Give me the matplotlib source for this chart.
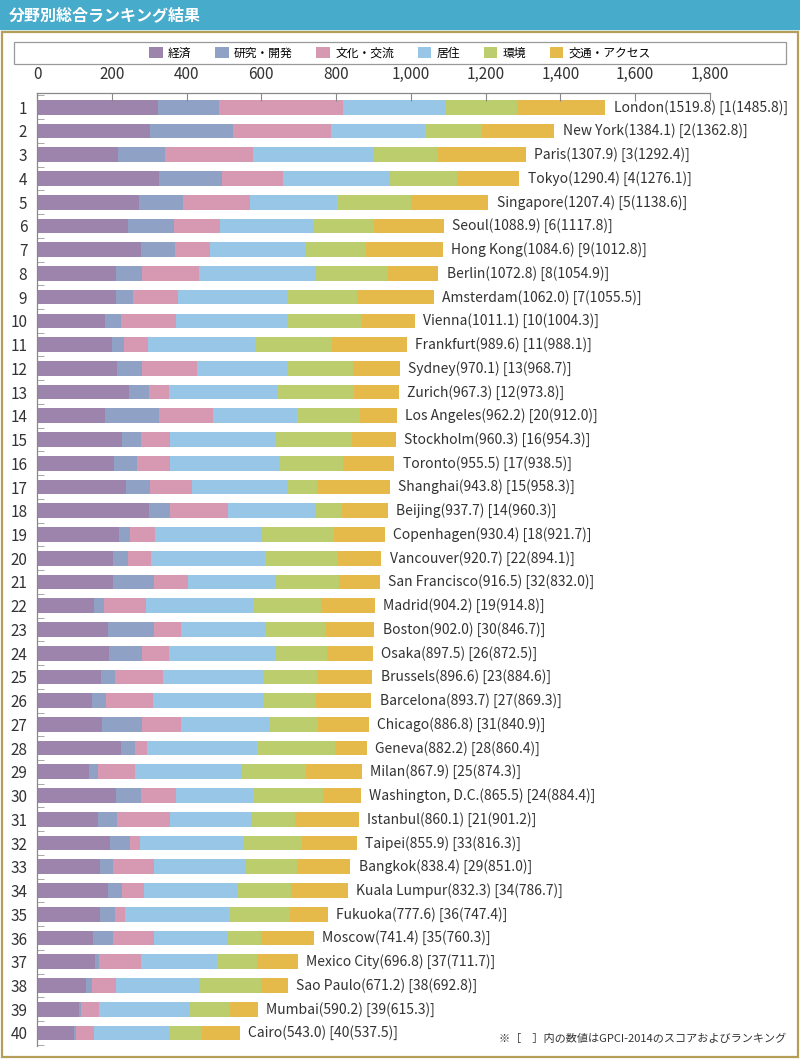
import matplotlib
matplotlib.use("Agg")
import matplotlib.pyplot as plt
from matplotlib.patches import Rectangle, Patch
from matplotlib.ticker import FuncFormatter
import numpy as np

plt.rcParams['font.family'] = ['Noto Sans CJK JP', 'DejaVu Sans']

# --- data ---
categories = ['経済', '研究・開発', '文化・交流', '居住', '環境', '交通・アクセス']
colors = ['#9c84ad', '#8fa1c5', '#d799b1', '#97c6e6', '#bccd6d', '#e6b94b']

cities = ['London', 'New York', 'Paris', 'Tokyo', 'Singapore', 'Seoul', 'Hong Kong',
          'Berlin', 'Amsterdam', 'Vienna', 'Frankfurt', 'Sydney', 'Zurich',
          'Los Angeles', 'Stockholm', 'Toronto', 'Shanghai', 'Beijing', 'Copenhagen',
          'Vancouver', 'San Francisco', 'Madrid', 'Boston', 'Osaka', 'Brussels',
          'Barcelona', 'Chicago', 'Geneva', 'Milan', 'Washington, D.C.', 'Istanbul',
          'Taipei', 'Bangkok', 'Kuala Lumpur', 'Fukuoka', 'Moscow', 'Mexico City',
          'Sao Paulo', 'Mumbai', 'Cairo']
scores = ['1519.8', '1384.1', '1307.9', '1290.4', '1207.4', '1088.9', '1084.6',
          '1072.8', '1062.0', '1011.1', '989.6', '970.1', '967.3', '962.2', '960.3',
          '955.5', '943.8', '937.7', '930.4', '920.7', '916.5', '904.2', '902.0',
          '897.5', '896.6', '893.7', '886.8', '882.2', '867.9', '865.5', '860.1',
          '855.9', '838.4', '832.3', '777.6', '741.4', '696.8', '671.2', '590.2', '543.0']
prev_ranks = [1, 2, 3, 4, 5, 6, 9, 8, 7, 10, 11, 13, 12, 20, 16, 17, 15, 14, 18, 22,
              32, 19, 30, 26, 23, 27, 31, 28, 25, 24, 21, 33, 29, 34, 36, 35, 37, 38, 39, 40]
prev_scores = ['1485.8', '1362.8', '1292.4', '1276.1', '1138.6', '1117.8', '1012.8',
               '1054.9', '1055.5', '1004.3', '988.1', '968.7', '973.8', '912.0', '954.3',
               '938.5', '958.3', '960.3', '921.7', '894.1', '832.0', '914.8', '846.7',
               '872.5', '884.6', '869.3', '840.9', '860.4', '874.3', '884.4', '901.2',
               '816.3', '851.0', '786.7', '747.4', '760.3', '711.7', '692.8', '615.3', '537.5']

economy = [323, 301, 217, 327, 274, 243, 278, 210, 210, 182, 201, 214, 247, 181, 228, 206,
           238, 300, 220, 204, 202, 153, 190, 192, 172, 148, 175, 225, 140, 212, 162, 195,
           169, 191, 169, 151, 155, 131, 112, 98]
research = [164, 222, 125, 168, 116, 123, 91, 72, 47, 44, 31, 68, 53, 145, 51, 62, 63, 55,
            29, 39, 110, 27, 123, 88, 37, 36, 105, 37, 24, 67, 53, 55, 34, 37, 40, 53, 11,
            17, 6, 5]
culture = [332, 264, 236, 164, 181, 124, 93, 152, 121, 147, 66, 147, 53, 144, 77, 89, 114,
           155, 67, 62, 93, 112, 71, 73, 128, 126, 105, 32, 97, 94, 140, 25, 109, 59, 27,
           110, 112, 64, 48, 50]
livability = [274, 251, 323, 284, 231, 251, 258, 311, 292, 297, 284, 240, 292, 226, 283,
              292, 255, 236, 286, 304, 232, 289, 228, 284, 268, 297, 238, 294, 286, 204,
              219, 278, 246, 250, 278, 195, 204, 220, 244, 203]
environment = [192, 152, 171, 179, 199, 160, 160, 193, 186, 200, 207, 177, 202, 168, 204,
               169, 79, 71, 193, 196, 171, 179, 162, 139, 143, 139, 128, 209, 172, 187, 116,
               157, 138, 143, 162, 90, 107, 166, 105, 85]
access = [235, 194, 236, 168, 206, 188, 205, 135, 206, 141, 201, 124, 120, 98, 117, 138,
          195, 121, 135, 116, 109, 144, 128, 122, 149, 148, 136, 85, 149, 102, 170, 146,
          142, 152, 102, 142, 108, 73, 75, 102]

series = [economy, research, culture, livability, environment, access]

# --- figure (pixel helpers) ---
W, H = 800, 1060
fig = plt.figure(figsize=(W / 100, H / 100), dpi=100)

def fx(px):
    return px / W

def fy(py):
    return 1 - py / H

# header band
fig.patches.append(Rectangle((0, fy(29)), 1, 29 / H, transform=fig.transFigure,
                             color='#47abcb', zorder=0))
fig.text(fx(9), fy(15), '分野別総合ランキング結果', color='white', fontsize=11.5,
         fontweight='bold', va='center')

# outer frame
fig.patches.append(Rectangle((fx(2), fy(1057)), fx(796), 1025 / H, transform=fig.transFigure,
                             fill=False, edgecolor='#b59f58', lw=1.6))

# legend box
fig.patches.append(Rectangle((fx(14), fy(64)), fx(772), 22 / H, transform=fig.transFigure,
                             fill=False, edgecolor='#999999', lw=0.9))
handles = [Patch(facecolor=c, edgecolor='none') for c in colors]
fig.legend(handles, categories, loc='center', bbox_to_anchor=(0.5, fy(53)), ncol=6,
           frameon=False, fontsize=8.5, handlelength=1.15, handleheight=1.15,
           handletextpad=0.45, columnspacing=2.0, borderpad=0)

# main axes
ax = fig.add_axes([fx(37), fy(1046), fx(673), 953 / H])
y = np.arange(len(cities))
left = np.zeros(len(cities))
for vals, c, lab in zip(series, colors, categories):
    ax.barh(y, vals, left=left, height=0.62, color=c, label=lab)
    left += np.array(vals)

for i in range(len(cities)):
    label = f'{cities[i]}({scores[i]}) [{prev_ranks[i]}({prev_scores[i]})]'
    ax.annotate(label, (left[i], i), xytext=(6, 0), textcoords='offset points',
                va='center', ha='left', fontsize=10, color='#333333')

ax.set_xlim(0, 1800)
ax.set_ylim(39.55, -0.6)

ax.xaxis.tick_top()
ax.set_xticks(range(0, 1801, 200))
ax.xaxis.set_major_formatter(FuncFormatter(lambda v, p: f'{int(v):,}'))
ax.tick_params(axis='x', direction='in', length=6, color='#888888', labelsize=11,
               pad=7, labelcolor='#333333')

ax.set_yticks(y)
ax.set_yticklabels([str(i + 1) for i in y])
ax.set_yticks(np.arange(-0.5, len(cities), 1), minor=True)
ax.tick_params(axis='y', which='major', length=0, pad=7, labelsize=11, labelcolor='#333333')
ax.tick_params(axis='y', which='minor', direction='in', length=5, color='#999999')

for s in ['right', 'bottom']:
    ax.spines[s].set_visible(False)
for s in ['top', 'left']:
    ax.spines[s].set_color('#888888')
    ax.spines[s].set_linewidth(0.9)

# footnote
fig.text(fx(786), fy(1039), '※［　］内の数値はGPCI-2014のスコアおよびランキング',
         ha='right', va='center', fontsize=8, color='#333333')

fig.savefig('out.png', dpi=100)
